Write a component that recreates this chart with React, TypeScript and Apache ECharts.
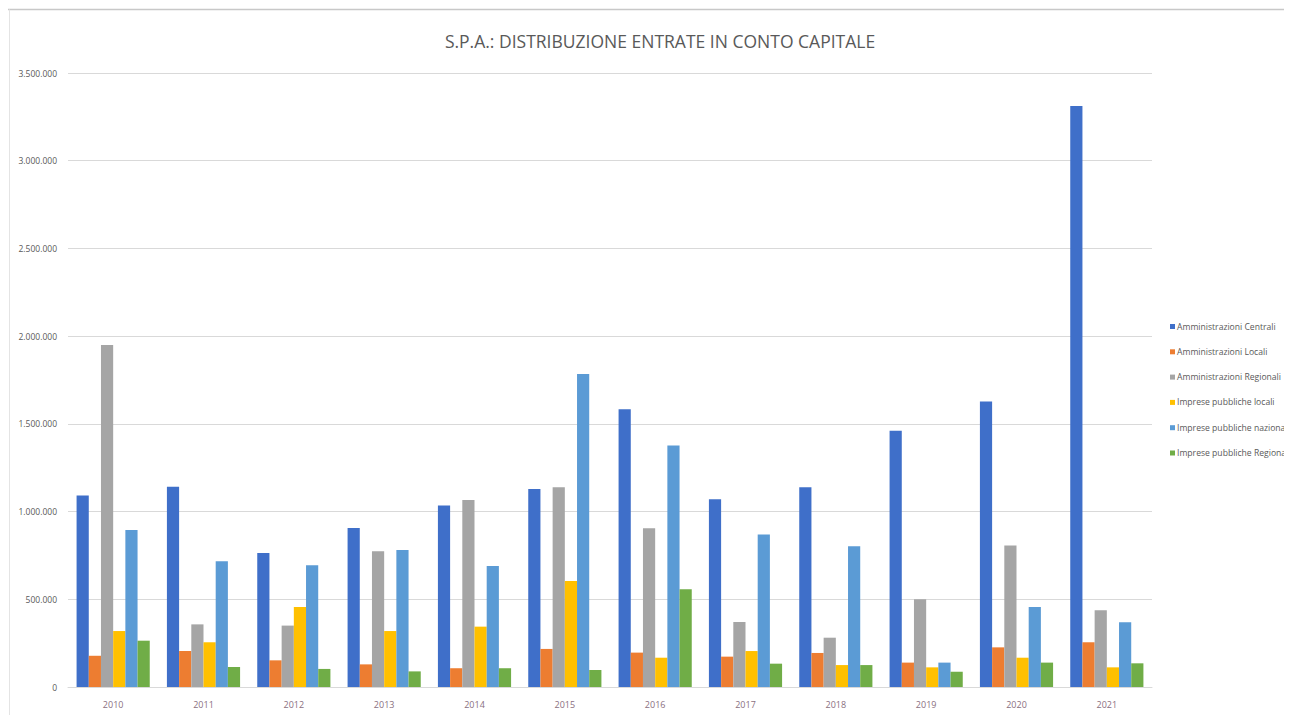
import React, { useEffect, useRef } from "react";
import * as echarts from "echarts";

const years = ["2010", "2011", "2012", "2013", "2014", "2015", "2016", "2017", "2018", "2019", "2020", "2021"];
const seriesNames = [
  "Amministrazioni Centrali",
  "Amministrazioni Locali",
  "Amministrazioni Regionali",
  "Imprese pubbliche locali",
  "Imprese pubbliche nazionali",
  "Imprese pubbliche Regionali",
];
const ammCentrali = [1091000, 1142000, 764000, 906000, 1034000, 1129000, 1583000, 1070000, 1138000, 1461000, 1627000, 3312000];
const ammLocali = [178000, 205000, 152000, 129000, 107000, 217000, 196000, 173000, 194000, 139000, 226000, 255000];
const ammRegionali = [1950000, 357000, 350000, 774000, 1066000, 1138000, 905000, 371000, 281000, 500000, 806000, 437000];
const impLocali = [319000, 255000, 456000, 319000, 344000, 604000, 167000, 205000, 125000, 112000, 167000, 112000];
const impNazionali = [895000, 717000, 694000, 781000, 690000, 1784000, 1376000, 870000, 802000, 139000, 456000, 369000];
const impRegionali = [264000, 114000, 103000, 89000, 107000, 97000, 557000, 133000, 125000, 87000, 139000, 135000];
const colors = ["#3F6FC9", "#ED7D31", "#A5A5A5", "#FFC000", "#5B9BD5", "#70AD47"];

const allData = [ammCentrali, ammLocali, ammRegionali, impLocali, impNazionali, impRegionali];

const fmt = (v: number) => String(Math.round(v)).replace(/\B(?=(\d{3})+(?!\d))/g, ".");

export default function App() {
  const ref = useRef<HTMLDivElement>(null);
  useEffect(() => {
    if (!ref.current) return;
    const chart = echarts.init(ref.current, null, { renderer: "svg" });
    const font = "'Open Sans', sans-serif";
    chart.setOption({
      animation: false,
      backgroundColor: "#ffffff",
      title: {
        text: "S.P.A.: DISTRIBUZIONE ENTRATE IN CONTO CAPITALE",
        left: 647,
        textAlign: "center",
        top: 19,
        textStyle: { fontFamily: font, fontSize: 17.5, fontWeight: "normal", color: "#595959" },
      },
      graphic: [
        {
          type: "line",
          shape: { x1: 0, y1: 1.5, x2: 1284, y2: 1.5 },
          style: { stroke: "#c8c8c8", lineWidth: 1.5 },
        },
        {
          type: "line",
          shape: { x1: 1.5, y1: 1.5, x2: 1.5, y2: 707 },
          style: { stroke: "#e4e4e4", lineWidth: 1 },
        },
      ],
      legend: {
        orient: "vertical",
        left: 1157,
        top: 309,
        itemGap: 16.3,
        itemWidth: 5,
        itemHeight: 5,
        icon: "rect",
        textStyle: { fontFamily: font, fontSize: 8.6, color: "#595959", padding: [0, 0, 0, -3] },
        data: seriesNames,
      },
      grid: { left: 60, right: 140, top: 65, bottom: 28, containLabel: false },
      xAxis: {
        type: "category",
        data: years,
        axisLine: { lineStyle: { color: "#d9d9d9" } },
        axisTick: { show: false },
        axisLabel: { fontFamily: font, fontSize: 9, color: "#8a6f80", margin: 13 },
      },
      yAxis: {
        type: "value",
        min: 0,
        max: 3500000,
        interval: 500000,
        axisLine: { show: false },
        axisTick: { show: false },
        splitLine: { lineStyle: { color: "#d9d9d9" } },
        axisLabel: { fontFamily: font, fontSize: 8.5, color: "#595959", margin: 11, formatter: fmt },
      },
      series: seriesNames.map((name, i) => ({
        name,
        type: "bar",
        data: allData[i],
        barGap: "0%",
        barCategoryGap: "19%",
        itemStyle: { color: colors[i] },
      })),
    });
    return () => chart.dispose();
  }, []);
  return <div ref={ref} style={{ width: 1284, height: 707 }} />;
}
